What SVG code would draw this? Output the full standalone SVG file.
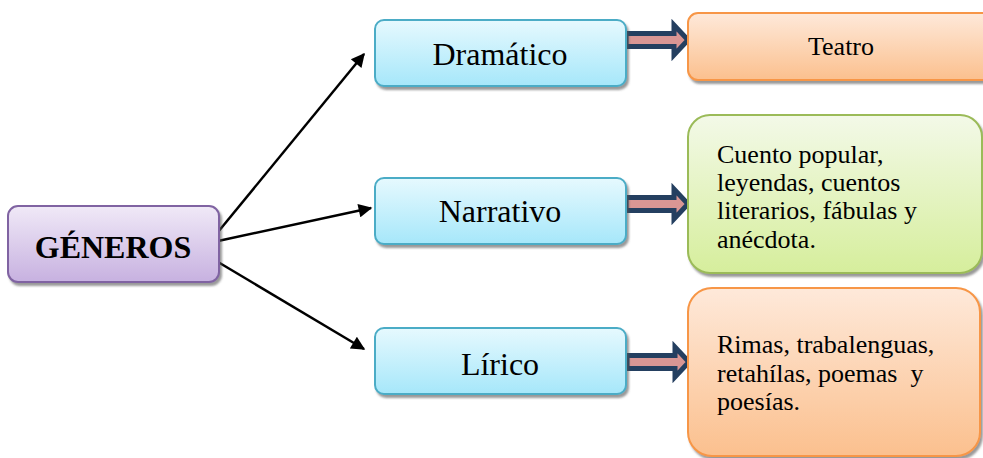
<svg xmlns="http://www.w3.org/2000/svg" width="983" height="458" viewBox="0 0 983 458">
<defs>
<linearGradient id="gBlue" x1="0" y1="0" x2="0" y2="1"><stop offset="0" stop-color="#E6F9FE"/><stop offset="1" stop-color="#A6E7FA"/></linearGradient>
<linearGradient id="gPurple" x1="0" y1="0" x2="0" y2="1"><stop offset="0" stop-color="#F0E9F7"/><stop offset="1" stop-color="#C7B1E0"/></linearGradient>
<linearGradient id="gOrange" x1="0" y1="0" x2="0" y2="1"><stop offset="0" stop-color="#FEE9DA"/><stop offset="1" stop-color="#FBC08E"/></linearGradient>
<linearGradient id="gGreen" x1="0" y1="0" x2="0" y2="1"><stop offset="0" stop-color="#F3F9E8"/><stop offset="1" stop-color="#D6EE9C"/></linearGradient>
<filter id="sh" x="-10%" y="-10%" width="130%" height="140%"><feDropShadow dx="2" dy="3" stdDeviation="1" flood-color="#555" flood-opacity="0.6"/></filter>
<marker id="ah" viewBox="0 0 10 10" refX="9" refY="5" markerWidth="6.5" markerHeight="5.5" orient="auto" markerUnits="strokeWidth"><path d="M0,0 L10,5 L0,10 z" fill="#000"/></marker>
<path id="barrow" d="M0,-6.5 L48,-6.5 L48,-15 L62,0 L48,15 L48,6.5 L0,6.5 z"/>
</defs>
<style>
.blue{fill:url(#gBlue);stroke:#4BACC6;stroke-width:2;filter:url(#sh)}
.purple{fill:url(#gPurple);stroke:#8064A2;stroke-width:2;filter:url(#sh)}
.orange{fill:url(#gOrange);stroke:#F79646;stroke-width:2;filter:url(#sh)}
.green{fill:url(#gGreen);stroke:#9BBB59;stroke-width:2;filter:url(#sh)}
.t{font-family:"Liberation Serif","Times New Roman",serif;fill:#000}
.big{font-size:32px;text-anchor:middle}
.mid{font-size:26px}
.conn{stroke:#000;stroke-width:2.5;fill:none;marker-end:url(#ah)}
.ba{fill:#D99694;stroke:#243F60;stroke-width:5;stroke-linejoin:miter}
</style>
<g id="connectors">
<line class="conn" x1="218" y1="232" x2="364" y2="54"/>
<line class="conn" x1="218" y1="241" x2="371" y2="208"/>
<line class="conn" x1="218" y1="262" x2="364" y2="349"/>
<use href="#barrow" class="ba" transform="translate(626,40)"/>
<use href="#barrow" class="ba" transform="translate(626,204)"/>
<use href="#barrow" class="ba" transform="translate(627,362)"/>
</g>
<g id="generos">
<rect class="purple" x="8" y="206" width="211" height="76" rx="10"/>
<text class="t big" x="113" y="258" font-weight="bold" font-size="31">GÉNEROS</text>
</g>
<g id="dramatico">
<rect class="blue" x="375" y="20" width="251" height="66" rx="9"/>
<text class="t big" x="500" y="65">Dramático</text>
</g>
<g id="narrativo">
<rect class="blue" x="375" y="178" width="251" height="66" rx="9"/>
<text class="t big" x="500" y="222">Narrativo</text>
</g>
<g id="lirico">
<rect class="blue" x="375" y="328" width="251" height="66" rx="9"/>
<text class="t big" x="500" y="375">Lírico</text>
</g>
<g id="teatro">
<rect class="orange" x="688" y="13" width="310" height="67" rx="10"/>
<text class="t mid" x="841" y="55" text-anchor="middle">Teatro</text>
</g>
<g id="narrativos">
<rect class="green" x="688" y="115" width="294" height="158" rx="22"/>
<text class="t mid" x="717" y="163">Cuento popular,</text>
<text class="t mid" x="717" y="191">leyendas, cuentos</text>
<text class="t mid" x="717" y="219">literarios, fábulas y</text>
<text class="t mid" x="717" y="248">anécdota.</text>
</g>
<g id="liricos">
<rect class="orange" x="688" y="288" width="292" height="168" rx="24"/>
<text class="t mid" x="717" y="353">Rimas, trabalenguas,</text>
<text class="t mid" x="717" y="382" xml:space="preserve">retahílas, poemas  y</text>
<text class="t mid" x="717" y="410">poesías.</text>
</g>
</svg>
